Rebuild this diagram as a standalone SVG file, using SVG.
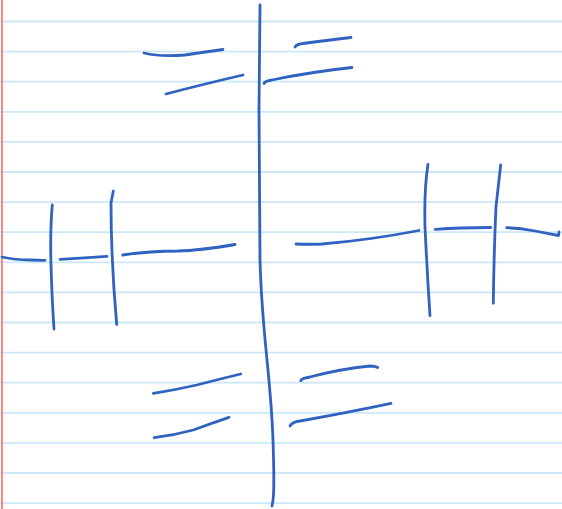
<svg xmlns="http://www.w3.org/2000/svg" width="562" height="509" viewBox="0 0 562 509">
<style>
.rule{stroke:#cce7f8;stroke-width:1.8;fill:none}
.margin{stroke:#ff6a6a;stroke-width:1.6;fill:none}
.ink{stroke:#2f62c1;stroke-width:2.8;fill:none;stroke-linecap:round;stroke-linejoin:round}
</style>
<rect width="562" height="509" fill="#ffffff"/>
<g id="paper">
<line class="rule" x1="0" y1="21.5" x2="562" y2="21.5"/>
<line class="rule" x1="0" y1="51.6" x2="562" y2="51.6"/>
<line class="rule" x1="0" y1="81.7" x2="562" y2="81.7"/>
<line class="rule" x1="0" y1="111.8" x2="562" y2="111.8"/>
<line class="rule" x1="0" y1="141.9" x2="562" y2="141.9"/>
<line class="rule" x1="0" y1="172" x2="562" y2="172"/>
<line class="rule" x1="0" y1="202.1" x2="562" y2="202.1"/>
<line class="rule" x1="0" y1="232.2" x2="562" y2="232.2"/>
<line class="rule" x1="0" y1="262.3" x2="562" y2="262.3"/>
<line class="rule" x1="0" y1="292.4" x2="562" y2="292.4"/>
<line class="rule" x1="0" y1="322.5" x2="562" y2="322.5"/>
<line class="rule" x1="0" y1="352.6" x2="562" y2="352.6"/>
<line class="rule" x1="0" y1="382.7" x2="562" y2="382.7"/>
<line class="rule" x1="0" y1="412.8" x2="562" y2="412.8"/>
<line class="rule" x1="0" y1="442.9" x2="562" y2="442.9"/>
<line class="rule" x1="0" y1="473" x2="562" y2="473"/>
<line class="rule" x1="0" y1="503.1" x2="562" y2="503.1"/>
<line class="margin" x1="2" y1="0" x2="2" y2="509"/>
</g>
<g id="sketch">
<path class="ink" d="M260,5 L259,110 L260,260 C261,300 264,330 267,360 C270,390 272,410 273,440 C274,470 274,485 273.5,495 Q273,502 272,506"/>
<path class="ink" d="M144,53 Q160,57 185,55 Q205,52 223,49.5"/>
<path class="ink" d="M166,94 Q200,85 243,75"/>
<path class="ink" d="M295,47 Q297,44 303,43.5 Q330,40 351,37.5"/>
<path class="ink" d="M264,83.5 Q265,81 272,80 Q310,72 352,67.5"/>
<path class="ink" d="M2,257 Q15,260 30,260 L45,260.3"/>
<path class="ink" d="M52.3,205 Q50,230 51,265 Q52,300 54,329"/>
<path class="ink" d="M60,259.3 Q85,258 107,256.3"/>
<path class="ink" d="M113.3,191 L111,203 Q111,260 116.7,324.3"/>
<path class="ink" d="M122.7,255 Q150,251 178,251 Q200,250.5 235,244.5"/>
<path class="ink" d="M296,244 Q310,244.5 322,244 Q370,240 419,230.5"/>
<path class="ink" d="M428,164.3 Q424,190 425,226.7 Q427,270 430,315.7"/>
<path class="ink" d="M435.3,229.3 Q460,227.5 490.7,227.5"/>
<path class="ink" d="M500.7,165 L496,206.7 Q494,250 493.3,303.3"/>
<path class="ink" d="M506.7,227.7 Q520,228 535,231 L558.5,235.5 L559,232"/>
<path class="ink" d="M153.3,393.3 Q175,390 196.7,385 Q220,379 240.7,374"/>
<path class="ink" d="M154.3,437.7 Q175,435 193.3,430 Q212,423 229,417.3"/>
<path class="ink" d="M300.7,380.7 Q301,378.5 310,377 Q340,369 370,366 Q375,366 377.7,367.5"/>
<path class="ink" d="M290,426 Q292,422 300,421 Q350,412 391,403.3"/>
</g>
</svg>
